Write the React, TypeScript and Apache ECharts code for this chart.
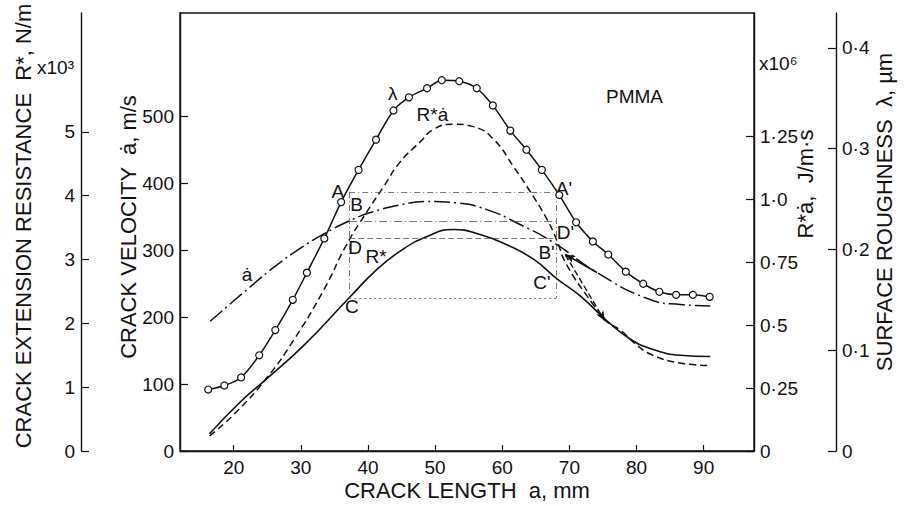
import React, { useEffect, useRef } from "react";
import * as echarts from "echarts";

const FONT = '"Liberation Sans", "DejaVu Sans", Arial, sans-serif';
const INK = "#111";

// Crack length axis (mm)
const X_MIN = 12;
const X_MAX = 97.5;
const xTicks = [20, 30, 40, 50, 60, 70, 80, 90];

// Crack velocity axis (m/s)
const VEL_MAX = 655;
const velTicks = [0, 100, 200, 300, 400, 500];

// Crack extension resistance axis (x10^3 N/m)
const R_MAX = 6.86;
const rTicks = [0, 1, 2, 3, 4, 5];

// R*·ȧ axis (x10^6 J/m·s)
const P_MAX = 1.742;
const pTicks = [0, 0.25, 0.5, 0.75, 1.0, 1.25];
const pTickLabels = ["0", "0·25", "0·5", "0·75", "1·0", "1·25"];

// Surface roughness axis (µm)
const LAM_MAX = 0.4347;
const lamTicks = [0, 0.1, 0.2, 0.3, 0.4];
const lamTickLabels = ["0", "0·1", "0·2", "0·3", "0·4"];

// Surface roughness λ, measured points
const lambdaX = [16.2, 18.6, 21.1, 23.8, 26.2, 28.8, 30.9, 33.5, 36.0, 38.6, 41.2, 43.8, 46.1, 48.8, 51.0, 53.6,
  56.2, 58.6, 61.2, 63.6, 65.9, 68.5, 71.0, 73.5, 75.8, 78.4, 81.0, 83.4, 85.9, 88.4, 90.9];
const lambdaY = [0.061, 0.065, 0.073, 0.095, 0.120, 0.150, 0.177, 0.211, 0.247, 0.279, 0.309, 0.338, 0.351, 0.360,
  0.368, 0.367, 0.360, 0.343, 0.318, 0.299, 0.279, 0.254, 0.227, 0.208, 0.195, 0.178, 0.166, 0.158, 0.155, 0.155, 0.153];

// Crack velocity ȧ
const velX = [16.5, 22.4, 26.4, 29.9, 33.5, 37.2, 40.5, 44.8, 48.5, 53.2, 57.7, 62.2, 67.6, 74.1, 81.6, 86.5, 91.0];
const velY = [194, 245, 278, 303, 325, 344, 357, 368, 373, 371, 361, 341, 312, 267, 228, 219, 217];

// Crack extension resistance R*
const rX = [16.4, 20.9, 24.9, 30.4, 37.2, 41.3, 44.8, 48.8, 52.7, 56.7, 60.7, 64.7, 68.1, 71.6, 75.6, 79.1, 82.5, 86.5, 91.0];
const rY = [0.27, 0.76, 1.13, 1.65, 2.40, 2.84, 3.13, 3.36, 3.47, 3.39, 3.23, 3.00, 2.70, 2.43, 2.04, 1.75, 1.59, 1.50, 1.48];

// Product R*·ȧ
const pX = [16.4, 20.2, 24.9, 28.9, 33.4, 36.8, 39.8, 42.3, 44.8, 47.8, 49.8, 52.7, 55.7, 58.7, 61.7, 64.2, 66.7,
  68.1, 69.6, 73.6, 75.3, 77.6, 80.1, 82.5, 86.5, 91.0];
const pY = [0.06, 0.15, 0.29, 0.44, 0.64, 0.82, 0.95, 1.05, 1.15, 1.23, 1.28, 1.30, 1.29, 1.24, 1.13, 1.03, 0.92,
  0.84, 0.74, 0.58, 0.52, 0.48, 0.42, 0.38, 0.35, 0.34];

// Construction lines: two crack lengths of equal roughness, and the levels A, B, D, C
const refX = [37.2, 68.1];
const levelA = 0.257; // λ
const levelB = 344; // ȧ
const levelD = 0.845; // R*ȧ
const levelC = 2.4; // R*

// Point labels along the curves: [x, value, text]
const lambdaNotes: [number, number, string][] = [[43.7, 0.355, "λ"], [35.5, 0.258, "A"], [69.2, 0.261, "A'"]];
const velNotes: [number, number, string][] = [[22.0, 264, "ȧ"], [38.3, 369, "B"], [66.6, 297, "B'"]];
const rNotes: [number, number, string][] = [[41.2, 3.05, "R*"], [37.6, 2.27, "C"], [65.9, 2.64, "C'"]];
const pNotes: [number, number, string][] = [[49.6, 1.337, "R*ȧ"], [38.1, 0.808, "D"], [69.4, 0.868, "D'"]];

// Direction arrows near B'/D': [[x0, y0], [x1, y1]]
const velArrow: [number, number][] = [[74.1, 267], [69.4, 294]];
const pArrow: [number, number][] = [[69.4, 0.78], [75.3, 0.517]];

const zip = (xs: number[], ys: number[]) => xs.map((x, i) => [x, ys[i]]);

const noteLabels = (notes: [number, number, string][]) => ({
  silent: true,
  symbol: "circle",
  symbolSize: 0,
  label: {
    show: true,
    position: "inside",
    color: INK,
    fontFamily: FONT,
    fontSize: 19,
    formatter: (p: any) => p.name,
  },
  data: notes.map(([x, y, t]) => ({ name: t, coord: [x, y] })),
});

const axisText = { color: INK, fontFamily: FONT, fontSize: 19 };
const nameText = { color: INK, fontFamily: FONT, fontSize: 22 };
const lineCommon = { lineStyle: { color: INK, width: 1.4 } };

// lift: how far (px) the rotated axis title sits above the axis middle
function valueAxis(opts: any) {
  const { ticks, labels, lift = 0, ...rest } = opts;
  return {
    type: "value",
    min: 0,
    splitLine: { show: false },
    axisLine: { show: true, onZero: false, ...lineCommon },
    axisTick: { show: true, inside: true, length: 8, customValues: ticks, lineStyle: { color: INK, width: 1.2 } },
    axisLabel: {
      ...axisText,
      margin: 6,
      customValues: ticks,
      formatter: labels
        ? (v: number) => {
            const i = ticks.findIndex((t: number) => Math.abs(t - v) < 1e-9);
            return i >= 0 ? labels[i] : "";
          }
        : (v: number) => String(v),
    },
    nameLocation: "middle",
    nameRotate: 90,
    nameMoveOverlap: false,
    nameTextStyle: { ...nameText, padding: [0, 0, 0, lift * 2] },
    ...rest,
  };
}

export default function App() {
  const ref = useRef<HTMLDivElement>(null);

  useEffect(() => {
    if (!ref.current) return;
    const chart = echarts.init(ref.current, undefined, { renderer: "svg" });

    const thin = { color: "#555", width: 0.8 };

    chart.setOption({
      animation: false,
      backgroundColor: "#fff",
      grid: {
        left: 180,
        right: 150,
        top: 13,
        bottom: 54,
        show: true,
        borderColor: INK,
        borderWidth: 1.4,
        backgroundColor: "transparent",
      },
      xAxis: {
        type: "value",
        min: X_MIN,
        max: X_MAX,
        splitLine: { show: false },
        axisLine: { show: true, onZero: false, ...lineCommon },
        axisTick: { show: true, inside: true, length: 6, customValues: xTicks, lineStyle: { color: INK, width: 1.2 } },
        axisLabel: { ...axisText, margin: 7, customValues: xTicks },
        name: "CRACK LENGTH  a, mm",
        nameLocation: "middle",
        nameGap: 28,
        nameMoveOverlap: false,
        nameTextStyle: nameText,
      },
      yAxis: [
        valueAxis({
          position: "left",
          offset: 0,
          max: VEL_MAX,
          ticks: velTicks,
          name: "CRACK VELOCITY  ȧ, m/s",
          nameGap: 41,
          lift: 5,
        }),
        valueAxis({
          position: "left",
          offset: 99,
          max: R_MAX,
          ticks: rTicks,
          name: "CRACK EXTENSION RESISTANCE  R*, N/m",
          nameGap: 47,
          lift: 6,
        }),
        valueAxis({
          position: "right",
          offset: 0,
          max: P_MAX,
          ticks: pTicks,
          labels: pTickLabels,
          name: "R*ȧ,  J/m·s",
          nameGap: 40,
          lift: 48,
        }),
        valueAxis({
          position: "right",
          offset: 82,
          max: LAM_MAX,
          ticks: lamTicks,
          labels: lamTickLabels,
          name: "SURFACE ROUGHNESS  λ, µm",
          nameGap: 37,
          lift: 20,
        }),
      ],
      graphic: [
        { type: "text", left: 606, top: 87, style: { text: "PMMA", fill: INK, font: `19px ${FONT}` } },
        { type: "text", left: 37, top: 58, style: { text: "x10³", fill: INK, font: `19px ${FONT}` } },
        { type: "text", left: 759, top: 54, style: { text: "x10⁶", fill: INK, font: `19px ${FONT}` } },
      ],
      series: [
        {
          name: "λ",
          type: "line",
          yAxisIndex: 3,
          data: zip(lambdaX, lambdaY),
          smooth: 0.3,
          symbol: "circle",
          symbolSize: 7,
          itemStyle: { color: "#fff", borderColor: INK, borderWidth: 1.2 },
          lineStyle: { color: INK, width: 1.5 },
          z: 5,
          markLine: {
            silent: true,
            symbol: "none",
            label: { show: false },
            lineStyle: { ...thin, type: [6, 3, 1, 3] },
            data: [
              [{ coord: [refX[0], levelA] }, { coord: [refX[1], levelA] }],
              [{ coord: [refX[0], levelA] }, { coord: [refX[0], (levelC * LAM_MAX) / R_MAX] }],
              [{ coord: [refX[1], levelA] }, { coord: [refX[1], (levelC * LAM_MAX) / R_MAX] }],
            ],
          },
          markPoint: noteLabels(lambdaNotes),
        },
        {
          name: "ȧ",
          type: "line",
          yAxisIndex: 0,
          data: zip(velX, velY),
          smooth: 0.5,
          showSymbol: false,
          lineStyle: { color: INK, width: 1.5, type: [16, 4, 2, 4] },
          markLine: {
            silent: true,
            label: { show: false },
            data: [
              [
                { coord: [refX[0], levelB], symbol: "none", lineStyle: { ...thin, type: [8, 3, 1, 3] } },
                { coord: [refX[1], levelB], symbol: "none" },
              ],
              [
                { coord: velArrow[0], symbol: "none", lineStyle: { color: INK, width: 1.6, type: "solid" } },
                { coord: velArrow[1], symbol: "arrow", symbolSize: [6, 10] },
              ],
            ],
          },
          markPoint: noteLabels(velNotes),
        },
        {
          name: "R*",
          type: "line",
          yAxisIndex: 1,
          data: zip(rX, rY),
          smooth: 0.5,
          showSymbol: false,
          lineStyle: { color: INK, width: 1.6 },
          markLine: {
            silent: true,
            symbol: "none",
            label: { show: false },
            lineStyle: { ...thin, type: [2, 3] },
            data: [[{ coord: [refX[0], levelC] }, { coord: [refX[1], levelC] }]],
          },
          markPoint: noteLabels(rNotes),
        },
        {
          name: "R*ȧ",
          type: "line",
          yAxisIndex: 2,
          data: zip(pX, pY),
          smooth: 0.5,
          showSymbol: false,
          lineStyle: { color: INK, width: 1.5, type: [7, 4] },
          markLine: {
            silent: true,
            label: { show: false },
            data: [
              [
                { coord: [refX[0], levelD], symbol: "none", lineStyle: { ...thin, type: [6, 3] } },
                { coord: [refX[1], levelD], symbol: "none" },
              ],
              [
                { coord: pArrow[0], symbol: "none", lineStyle: { color: INK, width: 1.4, type: [6, 3] } },
                { coord: pArrow[1], symbol: "arrow", symbolSize: [6, 10] },
              ],
            ],
          },
          markPoint: noteLabels(pNotes),
        },
      ],
    });

    return () => chart.dispose();
  }, []);

  return (
    <div
      ref={ref}
      style={{ position: "absolute", left: 0, top: 0, width: 904, height: 506, background: "#fff" }}
    />
  );
}
